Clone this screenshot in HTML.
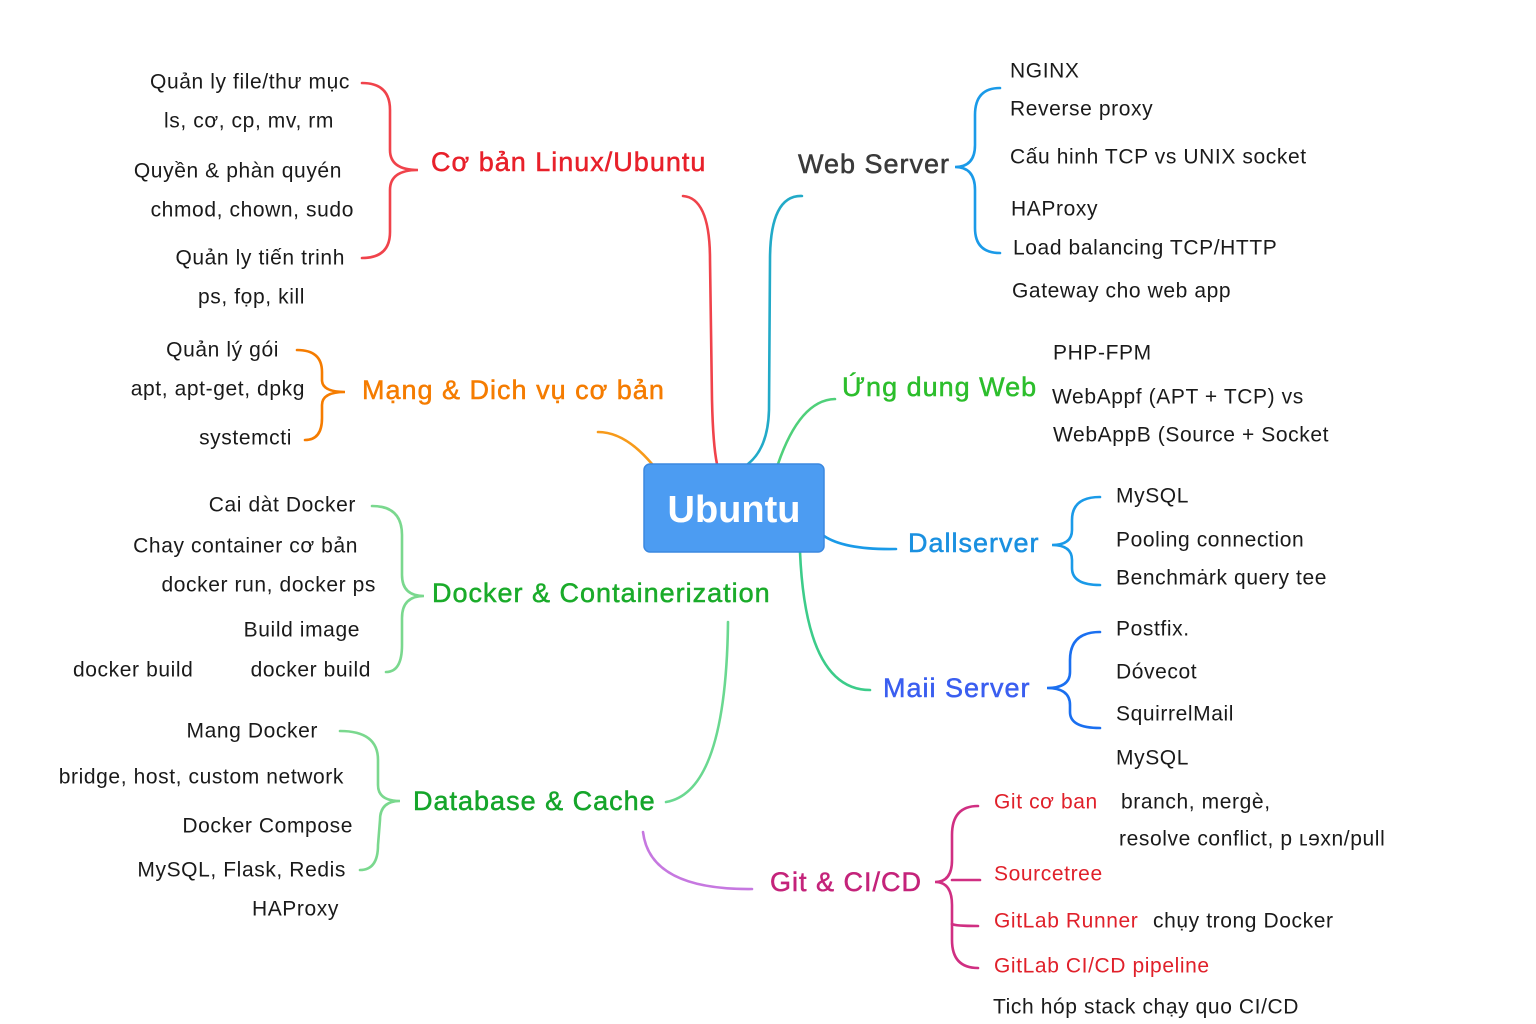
<!DOCTYPE html>
<html><head><meta charset="utf-8">
<style>
html,body{margin:0;padding:0;background:#fff;}
svg{display:block;font-family:"Liberation Sans","DejaVu Sans",sans-serif;}
.leaf{font-size:21px;fill:#1a1a1a;dominant-baseline:central;letter-spacing:0.6px;}
.r{text-anchor:end;}
.title{font-size:27px;dominant-baseline:central;letter-spacing:1px;stroke-width:0.5px;}
path{fill:none;stroke-width:2.6;stroke-linecap:round;}
</style></head>
<body>
<svg width="1536" height="1024" viewBox="0 0 1536 1024">
<rect width="1536" height="1024" fill="#fff"/>

<!-- connectors -->
<path stroke="#f0434b" d="M683,196 Q710,198 710,260 L712,400 Q713,445 717,464"/>
<path stroke="#f79a1a" d="M598,432 Q625,432 652,464"/>
<path stroke="#22aac8" d="M802,196 Q770,195 770,260 L769,410 Q768,448 748,464"/>
<path stroke="#4fd07a" d="M778,464 Q800,400 835,399"/>
<path stroke="#1a9ae8" d="M824,536 Q845,550 896,549"/>
<path stroke="#3ccc8a" d="M800,552 Q806,690 870,690"/>
<path stroke="#6ad890" d="M666,802 Q726,792 728,622"/>
<path stroke="#c678e0" d="M643,832 Q650,890 752,889"/>

<!-- center -->
<g>
<rect x="644" y="464" width="180" height="88" rx="6" fill="#4c9cf2" stroke="#3b88e0" stroke-width="1.5"/>
<text x="734" y="510" text-anchor="middle" dominant-baseline="central" font-size="38" font-weight="bold" fill="#fff">Ubuntu</text>
</g>

<!-- Linux -->
<text class="title" x="431" y="162" fill="#e8202a" stroke="#e8202a">Cơ bản Linux/Ubuntu</text>
<path stroke="#f0434b" d="M362,83 Q390,83 390,110 L390,150 Q390,170 418,170 Q390,170 390,190 L390,232 Q390,258 362,258"/>
<text class="leaf r" x="350" y="82">Quản ly file/thư mục</text>
<text class="leaf r" x="334" y="121">ls, cơ, cp, mv, rm</text>
<text class="leaf r" x="342" y="171">Quyền &amp; phàn quyén</text>
<text class="leaf r" x="354" y="210">chmod, chown, sudo</text>
<text class="leaf r" x="345" y="258">Quản ly tiến trinh</text>
<text class="leaf r" x="305" y="297">ps, fọp, kill</text>

<!-- Network -->
<text class="title" x="362" y="390" fill="#f57c00" stroke="#f57c00">Mạng &amp; Dich vụ cơ bản</text>
<path stroke="#f57c00" d="M297,350 Q322,350 322,372 L322,380 Q322,392 345,392 Q322,392 322,405 L322,418 Q322,440 305,440"/>
<text class="leaf r" x="279" y="350">Quản lý gói</text>
<text class="leaf r" x="305" y="389">apt, apt-get, dpkg</text>
<text class="leaf r" x="292" y="438">systemcti</text>

<!-- Docker -->
<text class="title" x="432" y="593" fill="#1aab2a" stroke="#1aab2a">Docker &amp; Containerization</text>
<path stroke="#7ad88e" d="M372,506 Q402,506 402,535 L402,575 Q402,596 424,596 Q402,596 402,618 L402,645 Q402,672 386,672"/>
<text class="leaf r" x="356" y="505">Cai dàt Docker</text>
<text class="leaf r" x="358" y="546">Chay container cơ bản</text>
<text class="leaf r" x="376" y="585">docker run, docker ps</text>
<text class="leaf r" x="360" y="630">Build image</text>
<text class="leaf r" x="371" y="670">docker build</text>
<text class="leaf" x="73" y="670">docker build</text>

<!-- Database -->
<text class="title" x="413" y="801" fill="#15a52a" stroke="#15a52a">Database &amp; Cache</text>
<path stroke="#7ad88e" d="M340,731 Q378,731 378,760 L378,785 Q378,801 400,801 Q380,801 380,820 L378,845 Q378,870 360,870"/>
<text class="leaf r" x="318" y="731">Mang Docker</text>
<text class="leaf r" x="344" y="777">bridge, host, custom network</text>
<text class="leaf r" x="353" y="826">Docker Compose</text>
<text class="leaf r" x="346" y="870">MySQL, Flask, Redis</text>
<text class="leaf r" x="339" y="909">HAProxy</text>

<!-- Git -->
<text class="title" x="770" y="882" fill="#c4237a" stroke="#c4237a">Git &amp; CI/CD</text>
<path stroke="#d02f82" d="M978,806 Q952,806 952,835 L952,860 Q952,882 935,882 Q952,882 952,905 L952,940 Q952,968 978,968"/>
<path stroke="#d02f82" d="M952,880 L980,880 M952,924 Q955,926 978,926"/>
<text class="leaf" x="994" y="802" style="fill:#e0202a">Git cơ ban</text>
<text class="leaf" x="994" y="874" style="fill:#e0202a">Sourcetree</text>
<text class="leaf" x="994" y="921" style="fill:#e0202a">GitLab Runner</text>
<text class="leaf" x="994" y="966" style="fill:#e0202a">GitLab CI/CD pipeline</text>
<text class="leaf" x="1121" y="802">branch, mergè,</text>
<text class="leaf" x="1119" y="839">resolve conflict, p ʟɘxn/pull</text>
<text class="leaf" x="1153" y="921">chụy trong Docker</text>
<text class="leaf" x="993" y="1007">Tich hóp stack chạy quo CI/CD</text>

<!-- Web Server -->
<text class="title" x="798" y="164" fill="#3a3a3a" stroke="#3a3a3a">Web Server</text>
<path stroke="#1a9ae8" d="M1000,88 Q975,88 975,115 L975,145 Q975,167 955,167 Q975,167 975,190 L975,228 Q975,253 1000,253"/>
<text class="leaf" x="1010" y="71">NGINX</text>
<text class="leaf" x="1010" y="109">Reverse proxy</text>
<text class="leaf" x="1010" y="157">Cấu hinh TCP vs UNIX socket</text>
<text class="leaf" x="1011" y="209">HAProxy</text>
<text class="leaf" x="1013" y="248">Load  balancing TCP/HTTP</text>
<text class="leaf" x="1012" y="291">Gateway cho web app</text>

<!-- Web App -->
<text class="title" x="842" y="387" fill="#2cbe2c" stroke="#2cbe2c">Ứng dung Web</text>
<text class="leaf" x="1053" y="353">PHP-FPM</text>
<text class="leaf" x="1052" y="397">WebAppf (APT  + TCP) vs</text>
<text class="leaf" x="1053" y="435">WebAppB (Source + Socket</text>

<!-- DB server -->
<text class="title" x="908" y="543" fill="#1a90e0" stroke="#1a90e0">Dallserver</text>
<path stroke="#1a9ae8" d="M1100,497 Q1072,497 1072,520 L1072,530 Q1072,545 1052,545 Q1072,545 1072,560 L1072,568 Q1072,585 1100,585"/>
<text class="leaf" x="1116" y="496">MySQL</text>
<text class="leaf" x="1116" y="540">Pooling connection</text>
<text class="leaf" x="1116" y="578">Benchmȧrk query tee</text>

<!-- Mail -->
<text class="title" x="883" y="688" fill="#3a5ef0" stroke="#3a5ef0">Maii Server</text>
<path stroke="#1a6ff0" d="M1100,632 Q1070,632 1070,660 L1070,672 Q1070,688 1047,688 Q1070,688 1070,705 L1070,712 Q1070,728 1100,728"/>
<text class="leaf" x="1116" y="629">Postfix.</text>
<text class="leaf" x="1116" y="672">Dóvecot</text>
<text class="leaf" x="1116" y="714">SquirrelMail</text>
<text class="leaf" x="1116" y="758">MySQL</text>
</svg>
</body></html>
